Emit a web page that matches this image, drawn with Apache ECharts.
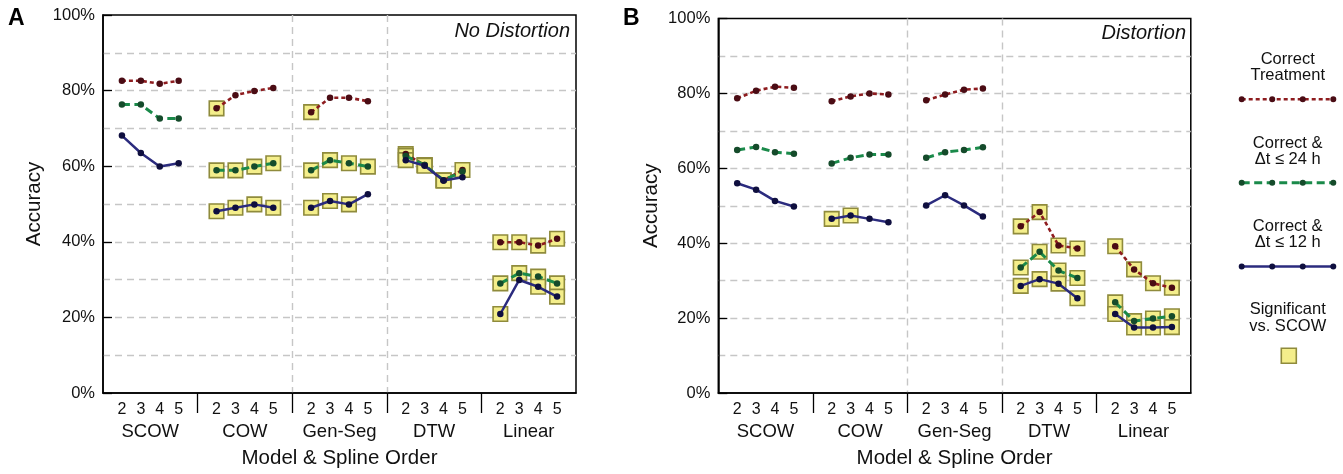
<!DOCTYPE html>
<html>
<head>
<meta charset="utf-8">
<script src="https://cdn.jsdelivr.net/npm/echarts@6/dist/echarts.min.js"></script>
<style>
  html, body { margin: 0; padding: 0; background: #fff; }
  #chart { width: 1343px; height: 474px; }
</style>
</head>
<body>
<div id="chart"></div>
<script>
// categories
const groups = ['SCOW', 'COW', 'Gen-Seg', 'DTW', 'Linear']
const orders = ['2', '3', '4', '5']
const seriesNames = ['Correct Treatment', 'Correct & Δt ≤ 24 h', 'Correct & Δt ≤ 12 h', 'Significant vs. SCOW']
const legendLabels = ['Correct\nTreatment', 'Correct &\nΔt ≤ 24 h', 'Correct &\nΔt ≤ 12 h', 'Significant\nvs. SCOW']

// panel A - no distortion (SCOW 2..5, COW 2..5, Gen-Seg 2..5, DTW 2..5, Linear 2..5)
const ctA  = [82.6, 82.6, 81.8, 82.6, 75.3, 78.8, 79.9, 80.7, 74.3, 78.1, 78.1, 77.2, 63.2, 60.3, 56.2, 59.0, 39.9, 39.9, 39.0, 40.8]
const d24A = [76.3, 76.3, 72.6, 72.6, 58.9, 58.9, 59.9, 60.8, 58.9, 61.6, 60.8, 59.9, 62.7, 60.3, 56.3, 58.6, 29.0, 31.7, 30.8, 29.0]
const d12A = [68.1, 63.5, 59.9, 60.8, 48.1, 49.0, 49.9, 49.0, 49.0, 50.8, 49.9, 52.6, 61.6, 60.1, 56.2, 57.1, 20.9, 29.9, 28.1, 25.5]
// significant vs. SCOW flags
const sigCtA  = [0, 0, 0, 0, 1, 0, 0, 0, 1, 0, 0, 0, 1, 1, 1, 1, 1, 1, 1, 1]
const sigD24A = [0, 0, 0, 0, 1, 1, 1, 1, 1, 1, 1, 1, 1, 1, 1, 0, 1, 1, 1, 1]
const sigD12A = [0, 0, 0, 0, 1, 1, 1, 1, 1, 1, 1, 0, 1, 1, 1, 0, 1, 0, 1, 1]

// panel B - distortion
const ctB  = [78.7, 80.7, 81.8, 81.5, 77.9, 79.2, 80.0, 79.7, 78.2, 79.7, 81.0, 81.3, 44.5, 48.3, 39.4, 38.6, 39.2, 33.0, 29.3, 28.1]
const d24B = [64.9, 65.7, 64.3, 63.9, 61.3, 62.8, 63.7, 63.7, 62.8, 64.3, 64.9, 65.6, 33.5, 37.7, 32.7, 30.7, 24.2, 19.2, 19.9, 20.5]
const d12B = [56.0, 54.3, 51.3, 49.8, 46.5, 47.4, 46.5, 45.6, 50.1, 52.8, 50.1, 47.1, 28.6, 30.4, 29.2, 25.3, 21.1, 17.5, 17.5, 17.6]
const sigCtB  = [0, 0, 0, 0, 0, 0, 0, 0, 0, 0, 0, 0, 1, 1, 1, 1, 1, 1, 1, 1]
const sigD24B = [0, 0, 0, 0, 0, 0, 0, 0, 0, 0, 0, 0, 1, 1, 1, 1, 1, 1, 1, 1]
const sigD12B = [0, 0, 0, 0, 1, 1, 0, 0, 0, 0, 0, 0, 1, 1, 1, 1, 1, 1, 1, 1]

const RED = '#8e1c1f', RED_DOT = '#4a0c14'
const GREEN = '#1a8a4a', GREEN_DOT = '#154b2b'
const BLUE = '#2b2b7e', BLUE_DOT = '#0f0f3f'
const SQ_FILL = '#f4ee8b', SQ_BORDER = '#8f8b3c'
const GRIDLINE = { color: '#c6c6c6', width: 1.4, type: [7, 5] }
const TXT = '#111'
const FONT = 'Liberation Sans, Arial, sans-serif'

// x position: group * 5 + order slot (1..4), break between groups
const toPoints = vals => {
  const out = []
  vals.forEach((v, i) => {
    const g = Math.floor(i / 4)
    if (i > 0 && i % 4 === 0) out.push([g * 5, '-'])
    out.push([g * 5 + (i % 4) + 1, v])
  })
  return out
}

const toSquares = (valsList, flagsList) => {
  const out = []
  valsList.forEach((vals, s) => {
    vals.forEach((v, i) => {
      if (flagsList[s][i]) out.push([Math.floor(i / 4) * 5 + (i % 4) + 1, v])
    })
  })
  return out
}

const orderPos = []
const groupPos = []
groups.forEach((g, gi) => {
  orders.forEach((o, oi) => orderPos.push(gi * 5 + oi + 1))
  groupPos.push(gi * 5 + 2.5)
})

const makeXAxes = gridIndex => [
  {
    type: 'value', gridIndex, min: 0, max: 25, interval: 5,
    name: 'Model & Spline Order', nameLocation: 'middle', nameGap: 55,
    nameTextStyle: { fontSize: 20.5, color: TXT, fontFamily: FONT },
    axisLine: { show: true, lineStyle: { color: '#000', width: 1.5 } },
    axisTick: { show: true, customValues: [5, 10, 15, 20], length: 20, lineStyle: { color: '#000', width: 1.3 } },
    axisLabel: {
      customValues: orderPos, margin: 9, fontSize: 16, color: TXT, fontFamily: FONT,
      formatter: v => orders[(Math.round(v) % 5) - 1]
    },
    splitLine: { show: true, showMinLine: false, showMaxLine: false, lineStyle: GRIDLINE }
  },
  {
    type: 'value', gridIndex, min: 0, max: 25, position: 'bottom',
    axisLine: { show: false }, axisTick: { show: false }, splitLine: { show: false },
    axisLabel: {
      customValues: groupPos, margin: 29, fontSize: 18.5, color: TXT, fontFamily: FONT,
      formatter: v => groups[Math.floor(v / 5)]
    }
  }
]

const makeYAxis = (gridIndex, nameGap) => ({
  type: 'value', gridIndex, min: 0, max: 100, interval: 20,
  name: 'Accuracy', nameLocation: 'middle', nameGap,
  nameTextStyle: { fontSize: 20.5, color: TXT, fontFamily: FONT },
  axisLine: { show: true, lineStyle: { color: '#000', width: 1.5 } },
  axisTick: { show: true, inside: true, length: 9, lineStyle: { color: '#000', width: 1.3 } },
  axisLabel: { formatter: '{value}%', margin: 8, fontSize: 16.5, color: TXT, fontFamily: FONT },
  splitLine: { show: true, showMinLine: false, showMaxLine: false, lineStyle: GRIDLINE },
  minorTick: { show: false, splitNumber: 2 },
  minorSplitLine: { show: true, lineStyle: GRIDLINE }
})

const lineSeries = (name, data, axisIdx, color, dot, width, type) => ({
  name, type: 'line', xAxisIndex: axisIdx * 2, yAxisIndex: axisIdx,
  data: toPoints(data), connectNulls: false, z: 3,
  symbol: 'circle', symbolSize: 6.5, showSymbol: true, showAllSymbol: true,
  lineStyle: { color, width, type },
  itemStyle: { color: dot },
  emphasis: { disabled: true }
})

const squareSeries = (data, axisIdx) => ({
  name: seriesNames[3], type: 'scatter', xAxisIndex: axisIdx * 2, yAxisIndex: axisIdx,
  data, z: 1, symbol: 'rect', symbolSize: 14.5,
  itemStyle: { color: SQ_FILL, borderColor: SQ_BORDER, borderWidth: 1.6, opacity: 1 },
  emphasis: { disabled: true }
})

// legend icon paths
const dashPath = (w, h, dash, gap) => {
  let d = ''
  for (let x = 0; x < w; x += dash + gap) {
    const len = Math.min(dash, w - x)
    d += `M${x},0h${len}v${h}h${-len}z`
  }
  return 'path://' + d
}
const dotsPath = (w, r, n) => {
  let d = ''
  for (let i = 0; i < n; i++) {
    const cx = r + i * (w - 2 * r) / (n - 1)
    d += `M${cx - r},${r}a${r},${r} 0 1,0 ${2 * r},0a${r},${r} 0 1,0 ${-2 * r},0z`
  }
  return 'path://' + d
}

const legendLayer = (name, icon, color, left, top, w, h) => ({
  data: [{ name, icon, itemStyle: { color, borderWidth: 0 } }],
  left, top, padding: 0, itemWidth: w, itemHeight: h,
  symbolKeepAspect: false, selectedMode: false,
  formatter: () => '', textStyle: { fontSize: 1 }
})

const LX = 1241.7, LW = 91.6, R = 3
const lineY = [99.3, 182.8, 266.5]

const legends = [
  legendLayer(seriesNames[0], dashPath(LW, 2.6, 4, 3), RED, LX, lineY[0] - 1.3, LW, 2.6),
  legendLayer(seriesNames[0], dotsPath(LW + 2 * R, R, 4), RED_DOT, LX - R, lineY[0] - R, LW + 2 * R, 2 * R),
  legendLayer(seriesNames[1], dashPath(LW, 3, 8, 4.5), GREEN, LX, lineY[1] - 1.5, LW, 3),
  legendLayer(seriesNames[1], dotsPath(LW + 2 * R, R, 4), GREEN_DOT, LX - R, lineY[1] - R, LW + 2 * R, 2 * R),
  legendLayer(seriesNames[2], 'rect', BLUE, LX, lineY[2] - 1.25, LW, 2.5),
  legendLayer(seriesNames[2], dotsPath(LW + 2 * R, R, 4), BLUE_DOT, LX - R, lineY[2] - R, LW + 2 * R, 2 * R),
  {
    data: [{ name: seriesNames[3], icon: 'rect', itemStyle: { color: SQ_FILL, borderColor: SQ_BORDER, borderWidth: 1.6 } }],
    left: 1280.5, top: 347.5, padding: 0, itemWidth: 15, itemHeight: 15,
    selectedMode: false, formatter: () => '', textStyle: { fontSize: 1 }
  }
]

const labelY = [67.7, 151.3, 234.7, 318]
const graphics = [
  { type: 'text', x: 8, y: 18.5, style: { text: 'A', font: 'bold 23px ' + FONT, fill: '#000', verticalAlign: 'middle' } },
  { type: 'text', x: 623, y: 18.5, style: { text: 'B', font: 'bold 23px ' + FONT, fill: '#000', verticalAlign: 'middle' } },
  { type: 'text', x: 570, y: 31, style: { text: 'No Distortion', font: 'italic 20px ' + FONT, fill: TXT, align: 'right', verticalAlign: 'middle' } },
  { type: 'text', x: 1186, y: 33.5, style: { text: 'Distortion', font: 'italic 20px ' + FONT, fill: TXT, align: 'right', verticalAlign: 'middle' } }
].concat(legendLabels.map((t, i) => ({
  type: 'text', x: 1287.7, y: labelY[i],
  style: { text: t, font: '16.5px ' + FONT, fill: TXT, align: 'center', verticalAlign: 'middle', lineHeight: 16.5 }
})))

const chart = echarts.init(document.getElementById('chart'), null, { renderer: 'canvas' })

chart.setOption({
  animation: false,
  backgroundColor: '#fff',
  textStyle: { fontFamily: FONT },
  grid: [
    { left: 103, top: 15, width: 473, height: 378, show: true, backgroundColor: '#fff', borderColor: '#000', borderWidth: 1.5 },
    { left: 718.3, top: 18.5, width: 472.5, height: 377.5, show: true, backgroundColor: '#fff', borderColor: '#000', borderWidth: 1.5 }
  ],
  xAxis: [...makeXAxes(0), ...makeXAxes(1)],
  yAxis: [makeYAxis(0, 58), makeYAxis(1, 56)],
  legend: legends,
  graphic: graphics,
  series: [
    squareSeries(toSquares([ctA, d24A, d12A], [sigCtA, sigD24A, sigD12A]), 0),
    lineSeries(seriesNames[0], ctA, 0, RED, RED_DOT, 2.6, [4, 3]),
    lineSeries(seriesNames[1], d24A, 0, GREEN, GREEN_DOT, 3, [8, 4.5]),
    lineSeries(seriesNames[2], d12A, 0, BLUE, BLUE_DOT, 2.5, 'solid'),
    squareSeries(toSquares([ctB, d24B, d12B], [sigCtB, sigD24B, sigD12B]), 1),
    lineSeries(seriesNames[0], ctB, 1, RED, RED_DOT, 2.6, [4, 3]),
    lineSeries(seriesNames[1], d24B, 1, GREEN, GREEN_DOT, 3, [8, 4.5]),
    lineSeries(seriesNames[2], d12B, 1, BLUE, BLUE_DOT, 2.5, 'solid')
  ]
})

window.addEventListener('resize', () => chart.resize())
</script>
</body>
</html>
